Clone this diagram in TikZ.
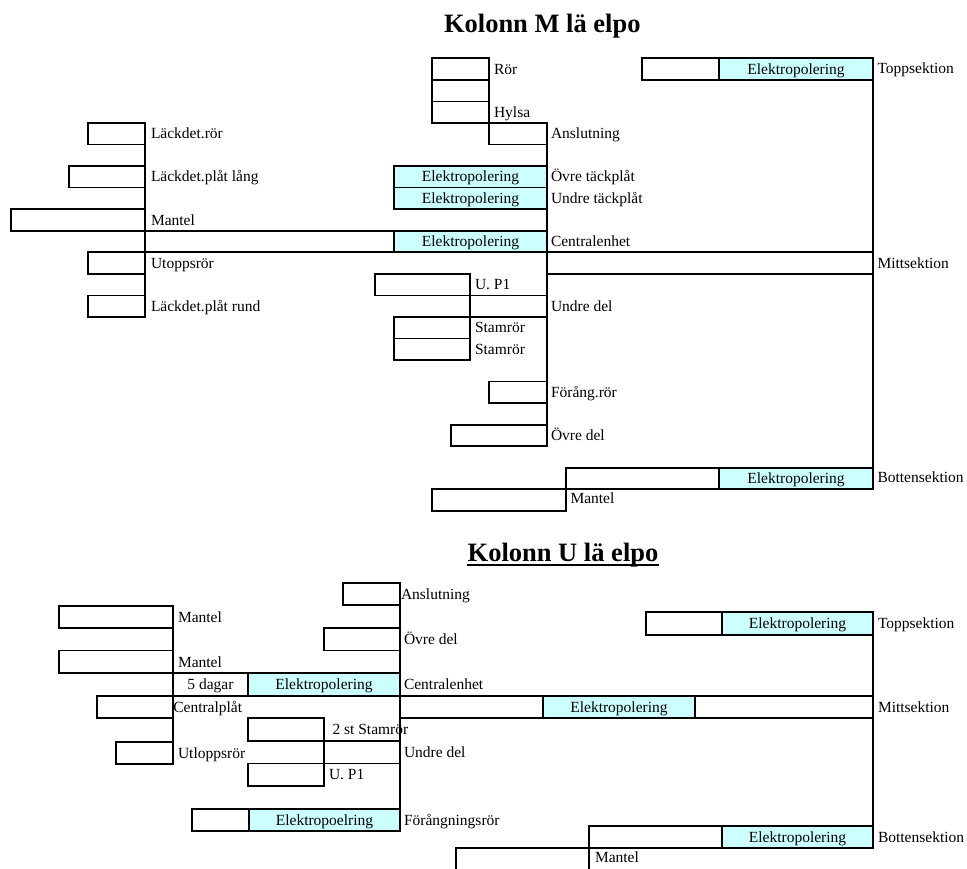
\documentclass[tikz,border=0pt]{standalone}
\usepackage{fontspec}
\setmainfont{Liberation Serif}
\definecolor{elpo}{RGB}{204,255,255}
\tikzset{
  gantt/.style={draw=black, line width=1.7pt, inner sep=0pt, outer sep=0pt,
    text height=10.3pt, text depth=0pt, font=\fontsize{15.5}{18}\selectfont},
  plain/.style={gantt, fill=white},
  polish/.style={gantt, fill=elpo},
  lbl/.style={inner sep=0pt, outer sep=0pt, anchor=west, text height=10.3pt,
    text depth=0pt, font=\fontsize{15.5}{18}\selectfont},
  conn/.style={line width=1.3pt},
  heading/.style={inner sep=0pt, anchor=base, font=\fontsize{26.5}{30}\selectfont\bfseries},
}
% \gbox{name}{style}{x1}{y1}{x2}{y2}{text}: bar from (x1,y1) to (x2,y2)
\newcommand\gbox[7]{%
  \pgfmathsetmacro\gw{#5-#3}%
  \pgfmathsetmacro\gh{#6-#4}%
  \node[#2, minimum width=\gw pt, minimum height=\gh pt, anchor=north west] (#1) at (#3,#4) {#7};}
\begin{document}
\begin{tikzpicture}[x=1pt,y=-1pt]
\useasboundingbox (0,0) rectangle (967,868);

% ---------------- Kolonn M ----------------
\node[heading] (titleM) at (542.3,32) {Kolonn M lä elpo};

% central column
\gbox{ror}{plain}{432}{58.3}{489}{79.85}{}
\gbox{rorb}{plain}{432}{79.85}{489}{101.4}{}
\gbox{hylsa}{plain}{432}{101.4}{489}{122.95}{}
\gbox{ansl}{plain}{489}{122.95}{547}{144.5}{}
\gbox{ovretack}{polish}{394}{166.05}{547}{187.6}{Elektropolering}
\gbox{undretack}{polish}{394}{187.6}{547}{209.15}{Elektropolering}
\gbox{centralw}{plain}{145}{230.7}{394}{252.25}{}
\gbox{centralc}{polish}{394}{230.7}{547}{252.25}{Elektropolering}
\gbox{mitt}{plain}{547}{252.25}{873}{273.8}{}
\gbox{upone}{plain}{375}{273.8}{470}{295.35}{}
\gbox{undredel}{plain}{470}{295.35}{547}{316.9}{}
\gbox{stamA}{plain}{394}{316.9}{470}{338.45}{}
\gbox{stamB}{plain}{394}{338.45}{470}{360.0}{}
\gbox{forang}{plain}{489}{381.55}{547}{403.1}{}
\gbox{ovredel}{plain}{451}{424.65}{547}{446.2}{}

% sections
\gbox{toppw}{plain}{642}{58.3}{719}{79.85}{}
\gbox{toppc}{polish}{719}{58.3}{873}{79.85}{Elektropolering}
\gbox{bottw}{plain}{566}{467.75}{719}{489.3}{}
\gbox{bottc}{polish}{719}{467.75}{873}{489.3}{Elektropolering}
\gbox{mantelB}{plain}{432}{489.3}{566}{510.85}{}

% left column
\gbox{lror}{plain}{88}{122.95}{145}{144.5}{}
\gbox{llang}{plain}{69}{166.05}{145}{187.6}{}
\gbox{mantelL}{plain}{11}{209.15}{145}{230.7}{}
\gbox{utopps}{plain}{88}{252.25}{145}{273.8}{}
\gbox{lrund}{plain}{88}{295.35}{145}{316.9}{}

\draw[conn] (lror.north east) -- (lrund.south east);
\draw[conn] (ansl.north east) -- (ovredel.south east);
\draw[conn] (toppc.north east) -- (bottc.south east);

\node[lbl] (tRor) at ([xshift=5pt]ror.east) {Rör};
\node[lbl] (tHylsa) at ([xshift=5pt]hylsa.east) {Hylsa};
\node[lbl] (tAnsl) at ([xshift=4pt]ansl.east) {Anslutning};
\node[lbl] (tOvretack) at ([xshift=4pt]ovretack.east) {Övre täckplåt};
\node[lbl] (tUndretack) at ([xshift=4pt]undretack.east) {Undre täckplåt};
\node[lbl] (tCentral) at ([xshift=4pt]centralc.east) {Centralenhet};
\node[lbl] (tMitt) at ([xshift=4.5pt]mitt.east) {Mittsektion};
\node[lbl] (tUpone) at ([xshift=5pt]upone.east) {U. P1};
\node[lbl] (tUndredel) at ([xshift=4pt]undredel.east) {Undre del};
\node[lbl] (tStamA) at ([xshift=5pt]stamA.east) {Stamrör};
\node[lbl] (tStamB) at ([xshift=5pt]stamB.east) {Stamrör};
\node[lbl] (tForang) at ([xshift=4pt]forang.east) {Förång.rör};
\node[lbl] (tOvredel) at ([xshift=4pt]ovredel.east) {Övre del};
\node[lbl] (tTopp) at ([xshift=4.5pt,yshift=1pt]toppc.east) {Toppsektion};
\node[lbl] (tBott) at ([xshift=4.5pt,yshift=1pt]bottc.east) {Bottensektion};
\node[lbl] (tMantelB) at ([xshift=4.5pt,yshift=1.5pt]mantelB.east) {Mantel};
\node[lbl] (tLror) at ([xshift=6pt]lror.east) {Läckdet.rör};
\node[lbl] (tLlang) at ([xshift=6pt]llang.east) {Läckdet.plåt lång};
\node[lbl] (tMantelL) at ([xshift=6pt]mantelL.east) {Mantel};
\node[lbl] (tUtopps) at ([xshift=6pt]utopps.east) {Utoppsrör};
\node[lbl] (tLrund) at ([xshift=6pt]lrund.east) {Läckdet.plåt rund};

% ---------------- Kolonn U ----------------
\node[heading] (titleU) at (563,561.3) {Kolonn U lä elpo};
\draw[line width=2pt] ([yshift=-4pt]titleU.base west) -- ([yshift=-4pt]titleU.base east);

\gbox{anslU}{plain}{343}{582.7}{400}{605}{}
\gbox{ovredelU}{plain}{324}{628.3}{400}{650.5}{}
\gbox{mantelA}{plain}{59}{606}{173}{628.3}{}
\gbox{mantelC}{plain}{59}{650.5}{173}{673.3}{}
\gbox{dagar}{plain}{173}{673.3}{248}{695.7}{5 dagar}
\gbox{centralU}{polish}{248}{673.3}{400}{695.7}{Elektropolering}
\gbox{cplat}{plain}{97}{695.7}{173}{718.3}{}
\gbox{mittA}{plain}{400}{695.7}{543}{718.3}{}
\gbox{mittB}{polish}{543}{695.7}{695}{718.3}{Elektropolering}
\gbox{mittC}{plain}{695}{695.7}{873}{718.3}{}
\gbox{stamU}{plain}{248}{718.3}{324}{741}{}
\gbox{undredelU}{plain}{324}{741}{400}{763.5}{}
\gbox{utlopps}{plain}{116}{741.7}{173}{764}{}
\gbox{uponeU}{plain}{248}{763.5}{324}{785.7}{}
\gbox{forangW}{plain}{192}{809}{249}{831}{}
\gbox{forangC}{polish}{249}{809}{400}{831}{Elektropoelring}
\gbox{toppUw}{plain}{646}{612.3}{722}{635}{}
\gbox{toppUc}{polish}{722}{612.3}{873}{635}{Elektropolering}
\gbox{bottUw}{plain}{589}{826}{722}{848.3}{}
\gbox{bottUc}{polish}{722}{826}{873}{848.3}{Elektropolering}
\gbox{mantelU}{plain}{456}{848.3}{589}{870.6}{}

\draw[conn] (mantelA.north east) -- (utlopps.south east);
\draw[conn] (anslU.north east) -- (forangC.north east);
\draw[conn] (toppUc.north east) -- (bottUc.south east);

\node[lbl] (tAnslU) at ([xshift=1pt]anslU.east) {Anslutning};
\node[lbl] (tOvredelU) at ([xshift=4pt]ovredelU.east) {Övre del};
\node[lbl] (tMantelA) at ([xshift=5pt]mantelA.east) {Mantel};
\node[lbl] (tMantelC) at ([xshift=5pt]mantelC.east) {Mantel};
\node[lbl] (tCentralU) at ([xshift=4pt]centralU.east) {Centralenhet};
\node[lbl] (tCplat) at ([xshift=0.3pt]cplat.east) {Centralplåt};
\node[lbl] (tMittU) at ([xshift=5pt]mittC.east) {Mittsektion};
\node[lbl] (tStamU) at ([xshift=8.5pt]stamU.east) {2 st Stamrör};
\node[lbl] (tUndredelU) at ([xshift=4pt]undredelU.east) {Undre del};
\node[lbl] (tUtlopps) at ([xshift=5pt]utlopps.east) {Utloppsrör};
\node[lbl] (tUponeU) at ([xshift=5pt]uponeU.east) {U. P1};
\node[lbl] (tForangU) at ([xshift=4pt]forangC.east) {Förångningsrör};
\node[lbl] (tToppU) at ([xshift=5pt]toppUc.east) {Toppsektion};
\node[lbl] (tBottU) at ([xshift=5pt]bottUc.east) {Bottensektion};
\node[lbl] (tMantelU) at ([xshift=6pt,yshift=2.5pt]mantelU.east) {Mantel};
\end{tikzpicture}
\end{document}
